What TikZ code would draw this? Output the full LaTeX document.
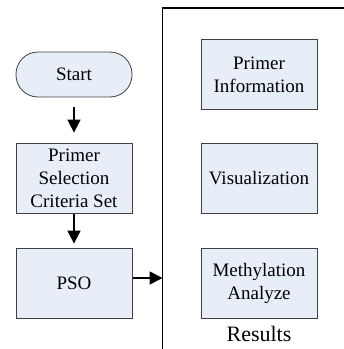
\documentclass[tikz,border=0pt]{standalone}
\usepackage{fontspec}
\setmainfont{Liberation Serif}
\usetikzlibrary{arrows.meta}
\definecolor{boxblue}{RGB}{232,238,248}
\definecolor{boxline}{RGB}{64,64,64}
\tikzset{
  flowbox/.style={draw=boxline,fill=boxblue,line width=0.8pt,minimum width=116pt,
    minimum height=70pt,align=center,inner sep=2pt,font=\fontsize{19}{23}\selectfont},
  startbox/.style={flowbox,minimum height=45pt,rounded corners=22pt},
}
\begin{document}
\begin{tikzpicture}[x=1pt,y=1pt,>={Triangle[length=13pt,width=13pt]},line width=1.6pt]
    \useasboundingbox (0,0) rectangle (344,349);
    % left column
    \node[startbox] (start) at (74,274.5) {Start};
    \node[flowbox] (select) at (74,171) {Primer\\Selection\\Criteria Set};
    \node[flowbox] (pso) at (74,66) {PSO};
    % results bracket
    \coordinate (foot) at (162.5,0);
    \coordinate (corner) at (162.5,341);
    \coordinate (topend) at (344,341);
    \draw (foot) -- (corner) -- (topend);
    % right column
    \node[flowbox] (info) at (259,274.5) {Primer\\Information};
    \node[flowbox] (visual) at (259,171) {Visualization};
    \node[flowbox] (methyl) at (259,66) {Methylation\\Analyze};
    \node[anchor=base,inner sep=0pt,font=\fontsize{22}{26}\selectfont] (results) at (259,8) {Results};
    % arrows
    \draw[->,shorten <=10pt,shorten >=10pt] (start) -- (select);
    \draw[->,shorten <=1pt,shorten >=4pt] (select) -- (pso);
    \draw[->,shorten <=1pt] ([yshift=5pt]pso.east) -- ([yshift=5pt]pso.east -| foot);
\end{tikzpicture}
\end{document}
